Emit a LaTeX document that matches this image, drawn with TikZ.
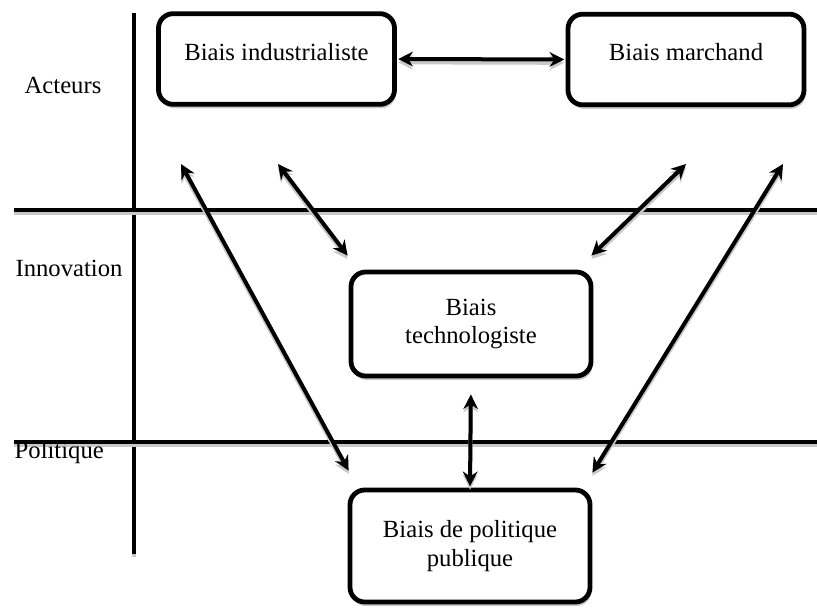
\documentclass[tikz,border=0pt]{standalone}
\usepackage{fontspec}
\setmainfont{Liberation Serif}
\usepackage{xcolor}
\usetikzlibrary{arrows.meta,positioning,shadows}
\definecolor{ink}{HTML}{000000}
\definecolor{shade}{HTML}{C8C8C8}
\tikzset{
  box/.style={draw=ink, fill=white, line width=3.6pt, rounded corners=11pt, align=center,
    font=\fontsize{18.5}{21.5}\selectfont,
    drop shadow={shadow xshift=1pt, shadow yshift=-3pt, fill=shade, opacity=1}},
  rule/.style={draw=ink, line width=3pt,
    preaction={draw=shade, line width=3pt, transform canvas={yshift=-2.5pt}}},
  link/.style={draw=ink, line width=3pt,
    {Stealth[length=11pt,width=11pt]}-{Stealth[length=11pt,width=11pt]},
    preaction={draw=shade, line width=3pt, transform canvas={yshift=-2.5pt}}},
  lab/.style={text=ink, font=\fontsize{18.5}{21.5}\selectfont},
}
\begin{document}
\begin{tikzpicture}[x=0.75pt, y=-0.75pt]
\useasboundingbox (0,0) rectangle (817,610);
% layers
\draw[rule] (134,13) -- (134,554);
\draw[rule] (14,210) -- (817,210);
\draw[rule] (14,442) -- (817,442);
\node[lab] (acteurs) at (63,85) {Acteurs};
\node[lab] (innovation) at (69,268) {Innovation};
\node[lab, anchor=west] (politique) at (10,453) {Politique};
% biases
\node[box, minimum width=177pt, minimum height=68pt, text depth=11pt] (indus) at (276.5,59) {Biais industrialiste};
\node[box, minimum width=177pt, minimum height=68pt, text depth=11pt] (march) at (686,59.5) {Biais marchand};
\node[box, minimum width=180pt, minimum height=78pt] (techno) at (471,324) {Biais\\technologiste};
\node[box, minimum width=180pt, minimum height=84pt] (polit) at (470,546) {Biais de politique\\publique};
% free ends
\coordinate (ind1) at (181,164);
\coordinate (ind2) at (278,164);
\coordinate (mar1) at (686,164);
\coordinate (mar2) at (783,164);
% links
\draw[link, shorten <=1pt, shorten >=1pt] (indus.east) -- (march.west);
\draw[link] (ind1) -- ([shift={(1,-17)}]polit.north west);
\draw[link] (ind2) -- ([shift={(-1,-14)}]techno.north west);
\draw[link] (mar1) -- ([shift={(-2,-14)}]techno.north east);
\draw[link] (mar2) -- ([shift={(0,-15)}]polit.north east);
\draw[link, shorten <=12pt, shorten >=1pt] (techno.south) -- (polit.north);
\end{tikzpicture}
\end{document}
